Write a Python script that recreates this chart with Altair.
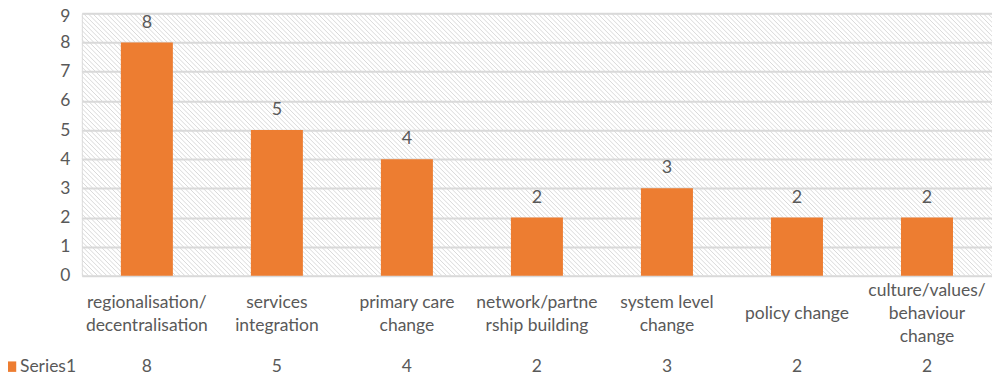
import altair as alt
import pandas as pd

categories = [
    "regionalisation/\ndecentralisation",
    "services\nintegration",
    "primary care\nchange",
    "network/partne\nrship building",
    "system level\nchange",
    "policy change",
    "culture/values/\nbehaviour\nchange",
]
values = [8, 5, 4, 2, 3, 2, 2]
series_name = "Series1"
y_ticks = list(range(0, 10))

W, H = 912, 263
FONT = "Lato"
TXT = "#595959"
ORANGE = "#ED7D31"

df = pd.DataFrame({"cat": categories, "val": values})

xscale = alt.Scale(domain=categories, paddingInner=0.6, paddingOuter=0.3)
yscale = alt.Scale(domain=[0, 9], nice=False)
yaxis = alt.Axis(
    values=y_ticks,
    tickCount=10,
    title=None,
    domain=False,
    ticks=False,
    labelOverlap=False,
    labelFont=FONT,
    labelFontSize=17.5,
    labelColor=TXT,
    labelPadding=12,
    labelOffset={"condition": {"test": "datum.value == 9", "value": 3}, "value": 0},
    gridColor="#d9d9d9",
    gridWidth=2,
)

base = alt.Chart(df)

hatch = (
    alt.Chart(alt.sequence(0, 260, 1, as_="i"))
    .transform_calculate(hx="datum.i * 4.6 - 270", hx2="datum.i * 4.6 - 270 + 263")
    .mark_rule(color="#d9d9d9", strokeWidth=1, clip=True)
    .encode(
        x=alt.X("hx:Q", scale=None, axis=None),
        x2="hx2:Q",
        y=alt.value(0),
        y2=alt.value(H),
    )
)

bars = base.mark_bar(color=ORANGE).encode(
    x=alt.X("cat:N", scale=xscale, sort=categories, axis=None),
    y=alt.Y("val:Q", scale=yscale, axis=yaxis),
)

bar_labels = base.mark_text(
    font=FONT, fontSize=18, color=TXT, baseline="alphabetic", dy=-15
).encode(
    x=alt.X("cat:N", scale=xscale, sort=categories, axis=None),
    y=alt.Y("val:Q", scale=yscale, axis=yaxis),
    text="val:Q",
)

cat_labels = (
    base.transform_calculate(
        ly=f"{H + 38.5} - (length(split(datum.cat, '\\n')) - 1) * 11.5"
    )
    .mark_text(
        font=FONT, fontSize=17.5, color=TXT, baseline="middle", lineBreak="\n", lineHeight=23
    )
    .encode(
        x=alt.X("cat:N", scale=xscale, sort=categories, axis=None),
        y=alt.Y("ly:Q", scale=None, axis=None),
        text="cat:N",
    )
)

table_vals = base.mark_text(
    font=FONT, fontSize=17.5, color=TXT, baseline="middle"
).encode(
    x=alt.X("cat:N", scale=xscale, sort=categories, axis=None),
    y=alt.value(H + 91),
    text="val:Q",
)

legend_df = pd.DataFrame({"s": [series_name]})
legend_sq = alt.Chart(legend_df).mark_point(
    shape="square", filled=True, color=ORANGE, size=110, opacity=1
).encode(x=alt.value(-71), y=alt.value(H + 91))
legend_txt = alt.Chart(legend_df).mark_text(
    font=FONT, fontSize=17.5, color=TXT, align="left", baseline="middle"
).encode(x=alt.value(-62), y=alt.value(H + 91), text="s:N")

chart = (
    alt.layer(hatch, bars, bar_labels, cat_labels, table_vals, legend_sq, legend_txt)
    .properties(
        width=W,
        height=H,
        autosize=alt.AutoSizeParams(type="none"),
        padding={"left": 74, "top": 5, "right": 0, "bottom": 110},
    )
    .configure_view(stroke=None)
    .configure(background="white")
)

chart.save("out.html", embed_options={"renderer": "svg", "actions": False})
